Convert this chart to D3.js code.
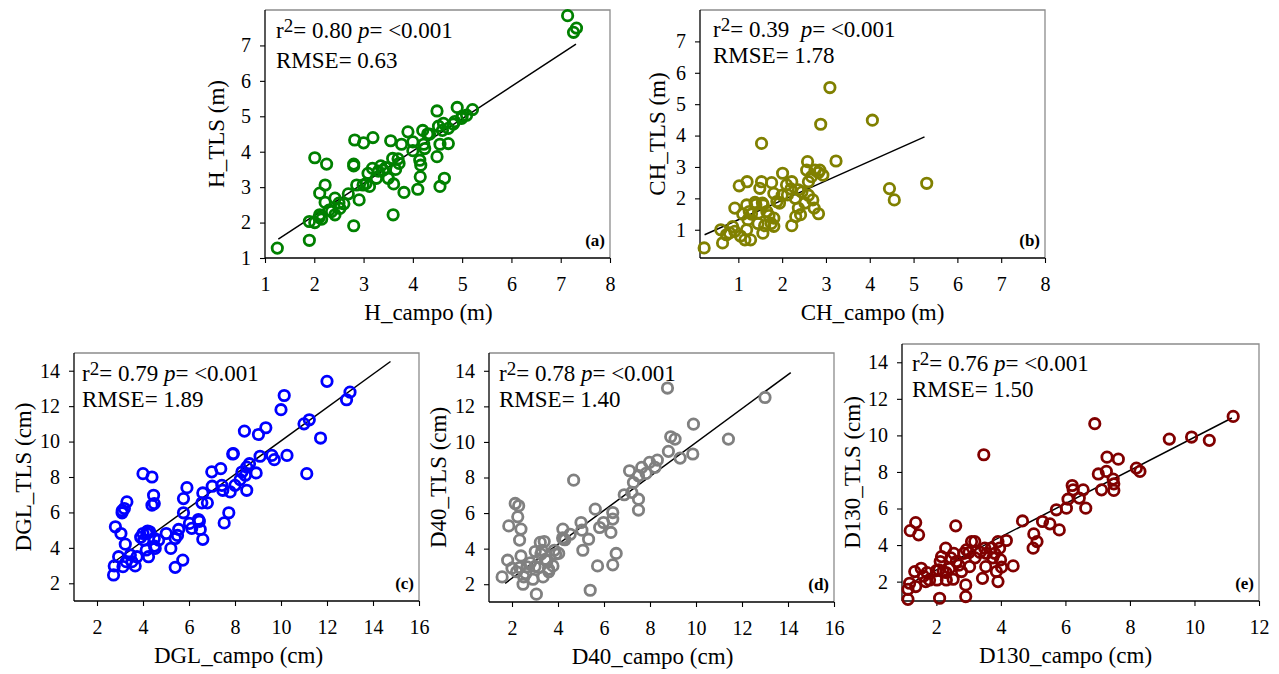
<!DOCTYPE html>
<html><head><meta charset="utf-8">
<script src="https://cdn.jsdelivr.net/npm/d3@7"></script>
<style>
body{margin:0;background:#fff;}
svg, svg text{font-family:"Times New Roman","Liberation Serif","DejaVu Serif",serif;}
</style></head><body>
<svg id="chart" width="1279" height="674"></svg>
<script>
// values: [campo, TLS]
const ptsA = [[1.25,1.28],[1.90,1.50],[1.90,2.03],[2.01,2.0],[2.01,3.83],[2.11,2.22],[2.11,2.83],[2.22,3.06],[2.22,2.57],[2.25,3.65],
  [2.42,2.69],[2.42,2.22],[2.35,2.31],[2.52,2.4],[2.6,2.53],[2.69,2.81],[2.8,1.91],[2.8,3.6],[2.82,4.33],[2.86,3.06],
  [2.91,2.64],[2.99,3.06],[3.0,4.25],[3.09,3.39],[3.12,3.02],[3.18,3.53],[3.19,4.40],[3.26,3.25],[3.4,3.48],[3.5,3.25],
  [3.55,4.31],[3.59,3.81],[3.6,2.22],[3.61,3.09],[3.72,3.67],[3.77,4.21],[3.82,2.85],[3.9,4.56],[4.0,4.03],[4.0,4.28],
  [4.1,2.94],[4.14,3.76],[4.15,3.29],[4.16,3.62],[4.2,4.6],[4.22,4.21],[4.24,4.09],[4.34,4.5],[4.49,5.15],[4.49,3.86],
  [4.52,4.72],[4.55,4.21],[4.55,3.02],[4.64,3.25],[4.62,4.8],[4.72,4.23],[4.72,4.66],[4.82,4.78],[4.9,5.25],[4.99,4.94],
  [5.09,5.03],[5.21,5.19],[7.14,7.84],[7.32,7.49],[7.26,7.37],[3.05,3.1],[3.3,3.45],[3.45,3.55],[3.7,3.8],[2.5,2.55],
  [2.3,2.35],[2.15,2.1],[4.3,4.5],[4.6,4.6],[4.85,4.85],[5.0,5.0],[3.35,3.6],[2.8,3.65],[2.1,2.15],[3.65,3.5]];
const ptsB = [[0.22,0.42],[0.60,1.0],[0.64,0.58],[0.73,0.84],[0.87,1.1],[0.92,0.95],[0.92,1.69],[1.02,2.40],[1.15,0.68],[1.19,1.0],
  [1.2,2.53],[1.19,1.79],[1.22,1.32],[1.25,1.58],[1.28,0.68],[1.38,1.87],[1.46,1.53],[1.49,2.32],[1.53,2.53],[1.53,3.75],
  [1.56,0.89],[1.57,1.79],[1.6,1.13],[1.65,1.58],[1.76,2.50],[1.81,1.37],[1.81,2.16],[1.81,1.11],[1.88,1.9],[1.94,1.85],
  [2.01,2.8],[2.1,2.43],[2.12,2.11],[2.22,2.53],[2.22,1.13],[2.31,1.42],[2.37,2.27],[2.37,1.69],[2.42,1.48],[2.52,1.85],
  [2.56,2.9],[2.58,3.17],[2.6,2.53],[2.67,2.69],[2.7,1.95],[2.73,1.69],[2.83,1.51],[2.83,2.82],[2.86,2.9],[2.88,4.36],
  [2.93,2.74],[3.09,5.53],[3.23,3.19],[4.06,4.49],[4.45,2.31],[4.56,1.95],[5.3,2.48],[1.3,1.5],[1.45,1.2],[1.7,1.45],
  [1.75,1.2],[2.0,2.1],[2.2,2.3],[2.3,2.0],[2.45,2.2],[1.1,1.5],[1.05,0.8],[0.8,0.9],[2.6,2.1],[2.75,2.9],
  [1.55,1.85],[1.4,1.8]];
const ptsC = [[2.72,2.47],[2.75,2.98],[2.80,5.19],[2.94,3.5],[3.04,4.81],[3.09,5.98],[3.13,2.94],[3.19,6.22],[3.23,4.21],[3.27,3.22],
  [3.30,6.60],[3.52,3.22],[3.66,2.98],[3.74,3.5],[4.0,8.19],[4.0,4.81],[4.03,4.44],[4.14,3.88],[4.17,4.81],[4.24,3.5],
  [4.29,4.91],[4.39,8.0],[4.39,6.41],[4.46,6.97],[4.49,6.5],[4.49,4.53],[4.53,3.97],[4.68,4.44],[5.01,4.81],[5.21,3.97],
  [5.40,4.53],[5.40,2.90],[5.55,5.04],[5.73,3.31],[5.76,5.98],[5.76,6.78],[5.91,7.4],[6.02,5.38],[6.12,5.1],[6.41,5.6],
  [6.49,5.04],[6.56,6.54],[6.6,7.1],[6.6,4.48],[6.8,6.54],[6.99,8.29],[7.01,7.48],[7.38,8.47],[7.43,7.53],[7.47,7.25],
  [7.53,5.41],[7.73,5.98],[7.79,7.16],[7.93,9.32],[8.0,7.53],[8.22,7.85],[8.3,8.28],[8.41,10.59],[8.51,8.56],[8.51,7.25],
  [8.63,8.75],[8.92,8.23],[9.02,10.4],[9.09,9.17],[9.34,10.78],[9.6,9.22],[9.71,8.98],[10.0,11.8],[10.14,12.6],[10.26,9.22],
  [11.0,11.0],[11.12,8.19],[11.23,11.23],[11.72,10.2],[12.0,13.4],[12.85,12.36],[13.0,12.79],[3.1,6.1],[3.45,3.6],[3.9,4.6],
  [4.2,4.95],[4.5,4.1],[5.5,4.7],[6.45,5.5],[7.9,9.3],[8.45,8.1]];
const ptsD = [[1.57,2.41],[1.81,3.35],[1.86,5.28],[2.0,2.9],[2.14,6.54],[2.25,5.79],[2.29,6.41],[2.33,2.94],[2.39,3.59],[2.39,5.1],
  [2.33,4.48],[2.48,2.0],[2.51,2.41],[2.65,2.98],[2.91,2.28],[3.06,1.44],[3.01,3.84],[3.16,2.94],[3.23,4.35],[3.26,3.69],
  [3.35,2.41],[3.4,4.4],[3.52,3.31],[3.59,2.84],[3.78,3.03],[3.84,3.91],[4.03,3.73],[4.21,5.1],[4.24,4.53],[4.68,7.85],
  [4.53,4.81],[5.0,5.47],[5.04,5.04],[5.08,3.91],[5.33,4.53],[5.4,1.66],[5.62,6.22],[5.72,3.03],[5.81,5.19],[5.98,5.47],
  [6.3,4.91],[6.38,6.03],[6.38,5.66],[6.38,3.09],[6.53,3.73],[6.88,7.03],[7.11,8.38],[7.21,7.16],[7.28,7.72],[7.5,6.78],
  [7.5,6.17],[7.5,8.1],[7.64,8.57],[7.83,8.23],[7.98,8.85],[8.22,8.57],[8.32,8.98],[8.76,13.03],[8.8,9.47],[8.9,10.29],
  [9.09,10.16],[9.31,9.09],[9.86,9.32],[9.89,11.0],[11.41,10.16],[13.0,12.5],[2.2,2.7],[2.6,2.6],[3.0,3.0],[3.3,3.9],
  [3.45,3.4],[3.6,2.7],[2.8,3.2],[3.9,3.7],[4.2,4.6],[4.3,4.5]];
const ptsE = [[1.12,1.03],[1.12,1.58],[1.19,4.79],[1.17,1.91],[1.33,2.55],[1.36,5.23],[1.36,1.73],[1.45,4.56],[1.53,2.73],[1.67,2.0],
  [1.71,2.49],[1.79,2.09],[2.02,2.09],[2.08,2.64],[2.1,1.09],[2.12,3.1],[2.16,3.37],[2.21,2.55],[2.29,3.83],[2.31,2.09],
  [2.41,2.73],[2.52,2.13],[2.54,3.55],[2.6,5.05],[2.62,3.1],[2.78,2.55],[2.85,3.55],[2.91,1.82],[2.91,1.18],[2.93,3.74],
  [3.01,3.59],[3.03,2.82],[3.09,4.19],[3.19,4.19],[3.43,2.18],[3.47,8.94],[3.5,3.83],[3.53,2.82],[3.55,3.55],[3.71,3.83],
  [3.81,3.55],[3.86,2.55],[3.91,4.19],[3.91,2.0],[3.96,3.83],[3.99,3.19],[4.02,2.79],[4.17,4.25],[4.38,2.86],[4.67,5.32],
  [5.0,3.83],[5.02,4.61],[5.12,4.19],[5.29,5.29],[5.52,5.16],[5.72,5.93],[5.81,4.83],[6.03,6.02],[6.08,6.51],[6.21,7.26],
  [6.24,7.02],[6.43,6.57],[6.55,7.02],[6.63,6.02],[6.91,10.64],[7.02,7.89],[7.12,7.02],[7.27,8.03],[7.29,8.81],[7.48,7.61],
  [7.5,7.35],[7.5,6.99],[7.64,8.7],[8.2,8.21],[8.31,8.03],[9.22,9.8],[9.91,9.91],[10.46,9.73],[11.2,11.04],[2.3,2.5],
  [2.45,3.3],[2.7,2.9],[3.2,3.3],[3.35,3.6],[3.75,3.3],[1.6,2.3],[2.0,2.6]];

// regression line end points [[x0,y0],[x1,y1]]
const fitA = [[1.27,1.53],[7.31,7.04]];
const fitB = [[0.23,0.84],[5.25,3.96]];
const fitC = [[2.7,3.16],[14.76,14.52]];
const fitD = [[1.7,2.05],[14.12,13.9]];
const fitE = [[1.1,1.82],[11.16,10.95]];

const r2Vals = ['0.80', '0.39 ', '0.79', '0.78', '0.76'];
const rmseVals = ['0.63', '1.78', '1.89', '1.40', '1.50'];
const xTitles = ['H_campo (m)', 'CH_campo (m)', 'DGL_campo (cm)', 'D40_campo (cm)', 'D130_campo (cm)'];
const yTitles = ['H_TLS (m)', 'CH_TLS (m)', 'DGL_TLS (cm)', 'D40_TLS (cm)', 'D130_TLS (cm)'];
const tags = ['(a)', '(b)', '(c)', '(d)', '(e)'];
const ticksM = [1, 2, 3, 4, 5, 6, 7, 8];
const ticksMy = [1, 2, 3, 4, 5, 6, 7];
const ticksCm = [2, 4, 6, 8, 10, 12, 14, 16];
const ticksCmY = [2, 4, 6, 8, 10, 12, 14];
const ticksE = [2, 4, 6, 8, 10, 12];

const FONT = '"Times New Roman", "Liberation Serif", "DejaVu Serif", serif';

const panels = [
  {pts: ptsA, fit: fitA, color: '#008000', box: [265, 10, 345, 248], xd: [1, 8], yd: [1, 8], xt: ticksM, yt: ticksMy,
   txt: [11, 28, 58], ytx: -49, xtx: -9},
  {pts: ptsB, fit: fitB, color: '#808000', box: [700, 10, 345, 248], xd: [0.125, 8], yd: [0.1, 8], xt: ticksM, yt: ticksMy,
   txt: [13, 27, 53], ytx: -43, xtx: 0},
  {pts: ptsC, fit: fitC, color: '#0000ff', box: [74, 353, 345, 248], xd: [1, 16], yd: [1, 15], xt: ticksCm, yt: ticksCmY,
   txt: [8, 28, 54], ytx: -51, xtx: -8},
  {pts: ptsD, fit: fitD, color: '#808080', box: [489, 353, 345, 249], xd: [1, 16], yd: [1, 15], xt: ticksCm, yt: ticksCmY,
   txt: [10, 28, 54], ytx: -51, xtx: -9},
  {pts: ptsE, fit: fitE, color: '#800000', box: [902, 344, 357, 257], xd: [0.935, 12], yd: [0.94, 15], xt: ticksE, yt: ticksCmY,
   txt: [10, 27, 53], ytx: -50, xtx: -15},
];

const svg = d3.select('#chart').attr('font-family', FONT);

panels.forEach((p, i) => {
  const [L, T, W, H] = p.box;
  const g = svg.append('g').attr('transform', `translate(${L},${T})`).attr('font-family', FONT);
  const x = d3.scaleLinear().domain(p.xd).range([0, W]);
  const y = d3.scaleLinear().domain(p.yd).range([H, 0]);

  // frame: top / right grey
  g.append('path').attr('d', `M0,0H${W}V${H}`).attr('fill', 'none').attr('stroke', '#8c8c8c').attr('stroke-width', 1.3);

  const xa = g.append('g').attr('transform', `translate(0,${H})`)
    .call(d3.axisBottom(x).tickValues(p.xt).tickSize(5).tickPadding(14).tickFormat(d3.format('d')));
  const ya = g.append('g')
    .call(d3.axisLeft(y).tickValues(p.yt).tickSize(5).tickPadding(9).tickFormat(d3.format('d')));
  [xa, ya].forEach(a => {
    a.attr('font-family', FONT);
    a.select('.domain').attr('stroke', '#000').attr('stroke-width', 1.3);
    a.selectAll('.tick line').attr('stroke', '#000').attr('stroke-width', 1.1);
    a.selectAll('text').attr('font-family', FONT).attr('font-size', 20).attr('fill', '#000');
  });
  ya.select('.domain').attr('d', `M0,${H}V0`);
  xa.select('.domain').attr('d', `M0,0H${W}`);

  // regression line
  g.append('line')
    .attr('x1', x(p.fit[0][0])).attr('y1', y(p.fit[0][1]))
    .attr('x2', x(p.fit[1][0])).attr('y2', y(p.fit[1][1]))
    .attr('stroke', '#000').attr('stroke-width', 1.5);

  g.selectAll('circle.pt').data(p.pts).join('circle')
    .attr('class', 'pt')
    .attr('cx', d => x(d[0])).attr('cy', d => y(d[1]))
    .attr('r', 5.2).attr('fill', 'none').attr('stroke', p.color).attr('stroke-width', 2.8);

  // stats text
  const t1 = g.append('text').attr('x', p.txt[0]).attr('y', p.txt[1])
    .attr('font-family', FONT).attr('font-size', 23).attr('fill', '#000').style('white-space', 'pre');
  t1.append('tspan').text('r');
  t1.append('tspan').attr('font-size', 19).attr('dy', -6).text('2');
  t1.append('tspan').attr('dy', 6).text('= ' + r2Vals[i] + ' ');
  t1.append('tspan').attr('font-style', 'italic').text('p');
  t1.append('tspan').text('= <0.001');
  g.append('text').attr('x', p.txt[0]).attr('y', p.txt[2])
    .attr('font-family', FONT).attr('font-size', 23).attr('fill', '#000').text('RMSE= ' + rmseVals[i]);

  g.append('text').attr('x', W - 5).attr('y', H - 12).attr('text-anchor', 'end')
    .attr('font-family', FONT).attr('font-size', 17).attr('font-weight', 'bold').text(tags[i]);

  // axis titles
  g.append('text').attr('x', W / 2 + p.xtx).attr('y', H + 62).attr('text-anchor', 'middle')
    .attr('font-family', FONT).attr('font-size', 23).text(xTitles[i]);
  g.append('text').attr('transform', `translate(${p.ytx},${H / 2}) rotate(-90)`)
    .attr('text-anchor', 'middle').attr('dy', '0.35em')
    .attr('font-family', FONT).attr('font-size', 23).text(yTitles[i]);
});
</script>
</body></html>
